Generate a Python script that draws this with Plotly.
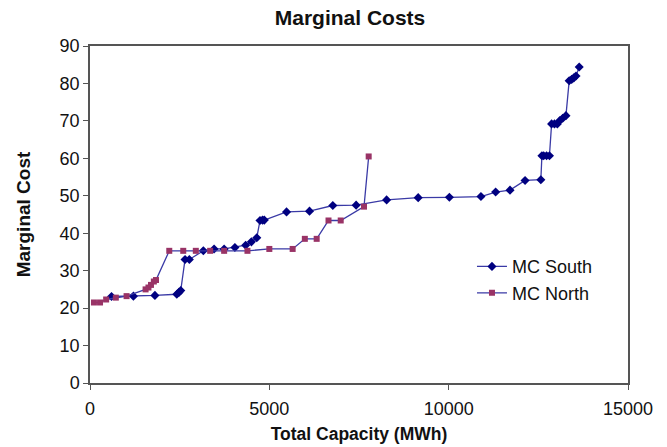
import plotly.graph_objects as go

# Marginal cost curves (capacity in MWh, cost)
south_capacity = [600, 1210, 1810, 2420, 2480, 2530, 2650, 2770, 3160, 3460, 3740,
                  4040, 4340, 4500, 4650, 4740, 4810, 4860, 5480, 6120, 6770, 7420,
                  8270, 9150, 10020, 10900, 11310, 11710, 12130, 12570, 12600, 12650,
                  12730, 12810, 12870, 12950, 13030, 13100, 13180, 13270, 13360,
                  13430, 13490, 13550, 13640]
south_cost = [23.1, 23.2, 23.4, 23.7, 24.2, 24.7, 33.0, 33.0, 35.3, 35.8, 35.8,
              36.2, 36.8, 37.7, 38.8, 43.4, 43.5, 43.5, 45.7, 45.9, 47.4, 47.5,
              48.9, 49.5, 49.6, 49.8, 51.0, 51.5, 54.1, 54.3, 60.7, 60.7,
              60.7, 60.7, 69.2, 69.2, 69.2, 70.1, 70.7, 71.4, 80.7,
              81.1, 81.5, 82.0, 84.4]

north_capacity = [110, 280, 450, 720, 1020, 1550, 1630, 1700, 1780, 1840, 2210,
                  2600, 2950, 3350, 3740, 4390, 5000, 5650, 5990, 6320, 6650,
                  6990, 7640, 7770]
north_cost = [21.5, 21.5, 22.3, 22.8, 23.2, 25.0, 25.5, 26.2, 27.1, 27.5, 35.3,
              35.3, 35.3, 35.3, 35.3, 35.3, 35.8, 35.8, 38.5, 38.5, 43.4,
              43.4, 47.1, 60.5]

x_ticks = [0, 5000, 10000, 15000]
x_tick_labels = ["0", "5000", "10000", "15000"]
y_ticks = list(range(0, 91, 10))

FONT = "Liberation Sans, Arial, sans-serif"
LINE = "#3a3aa6"
TEXT = "#111111"

fig = go.Figure()
fig.add_trace(go.Scatter(
    x=south_capacity, y=south_cost, name="MC South", mode="lines+markers",
    line=dict(color=LINE, width=1.3),
    marker=dict(symbol="diamond", size=7, color="#000080"),
))
fig.add_trace(go.Scatter(
    x=north_capacity, y=north_cost, name="MC North", mode="lines+markers",
    line=dict(color=LINE, width=1.3),
    marker=dict(symbol="square", size=6, color="#993366"),
))

axis_common = dict(
    showline=True, linecolor="#555555", linewidth=1.5, mirror=True,
    ticks="outside", ticklen=5, tickcolor="#555555", showgrid=False,
    zeroline=False, automargin=False,
    tickfont=dict(family=FONT, size=18, color=TEXT),
)

fig.update_layout(
    width=667, height=447,
    margin=dict(l=90, r=39, t=46, b=64),
    paper_bgcolor="white", plot_bgcolor="white",
    title=dict(text="<b>Marginal Costs</b>", x=350 / 667, xanchor="center",
               y=1 - 18 / 447, yanchor="middle",
               font=dict(family=FONT, size=21, color=TEXT)),
    xaxis=dict(range=[0, 15000], tickvals=x_ticks, ticktext=x_tick_labels,
               ticklabelstandoff=4, **axis_common,
               title=dict(text="<b>Total Capacity (MWh)</b>", standoff=9,
                          font=dict(family=FONT, size=17.5, color=TEXT))),
    yaxis=dict(range=[0, 90], tickvals=y_ticks, **axis_common,
               title=dict(text="<b>Marginal Cost</b>", standoff=24,
                          font=dict(family=FONT, size=19, color=TEXT))),
    legend=dict(x=0.71, y=0.40, xanchor="left", yanchor="top",
                bgcolor="rgba(0,0,0,0)", font=dict(family=FONT, size=18, color=TEXT),
                tracegroupgap=11),
    showlegend=True,
)

fig.write_html("out.html")
